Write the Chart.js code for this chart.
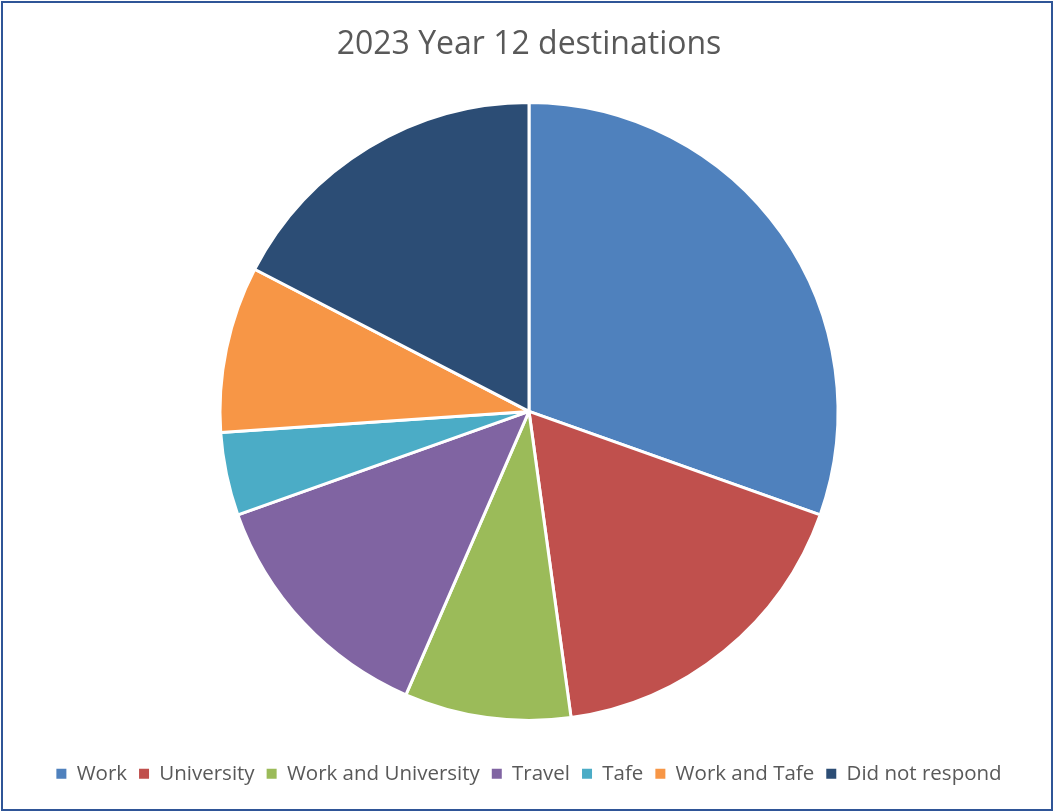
<!DOCTYPE html>
<html lang="en">
<head>
  <meta charset="UTF-8">
  <title>2023 Year 12 destinations</title>
  <script src="https://cdn.jsdelivr.net/npm/chart.js"></script>
  <style>
    html, body { margin: 0; padding: 0; background: #fff; }
    #frame {
      position: absolute; left: 1px; top: 1px;
      width: 1048px; height: 806px;
      border: 2px solid #2F5597;
      background: #fff;
    }
  </style>
</head>
<body>
  <div id="frame"><canvas id="destChart" width="1048" height="806"></canvas></div>
  <script>
    // categories and counts
    const destinations = ['Work', 'University', 'Work and University', 'Travel', 'Tafe', 'Work and Tafe', 'Did not respond'];
    const students = [7, 4, 2, 3, 1, 2, 4];
    const sliceColours = ['#4F81BD', '#C0504D', '#9BBB59', '#8064A2', '#4BACC6', '#F79646', '#2C4D75'];

    const ctx = document.getElementById('destChart').getContext('2d');
    new Chart(ctx, {
      type: 'pie',
      data: {
        labels: destinations,
        datasets: [{
          data: students,
          backgroundColor: sliceColours,
          borderColor: '#ffffff',
          borderWidth: 3,
          hoverOffset: 0,
          radius: 309
        }]
      },
      options: {
        responsive: false,
        animation: false,
        layout: { padding: { top: 0, bottom: 15, left: 4, right: 0 } },
        plugins: {
          title: {
            display: true,
            text: '2023 Year 12 destinations',
            color: '#595959',
            font: { family: 'Open Sans', size: 32, weight: 'normal' },
            padding: { top: 23, bottom: 7 }
          },
          legend: {
            position: 'bottom',
            labels: {
              color: '#595959',
              font: { family: 'Open Sans', size: 20.5 },
              boxWidth: 10,
              boxHeight: 10,
              padding: 12,
              // plain squares, no white outline from the slice border
              generateLabels: (chart) => {
                const items = Chart.overrides.pie.plugins.legend.labels.generateLabels(chart);
                items.forEach(it => { it.lineWidth = 0; it.strokeStyle = 'rgba(0,0,0,0)'; });
                return items;
              }
            }
          },
          tooltip: { enabled: false }
        }
      }
    });
  </script>
</body>
</html>
